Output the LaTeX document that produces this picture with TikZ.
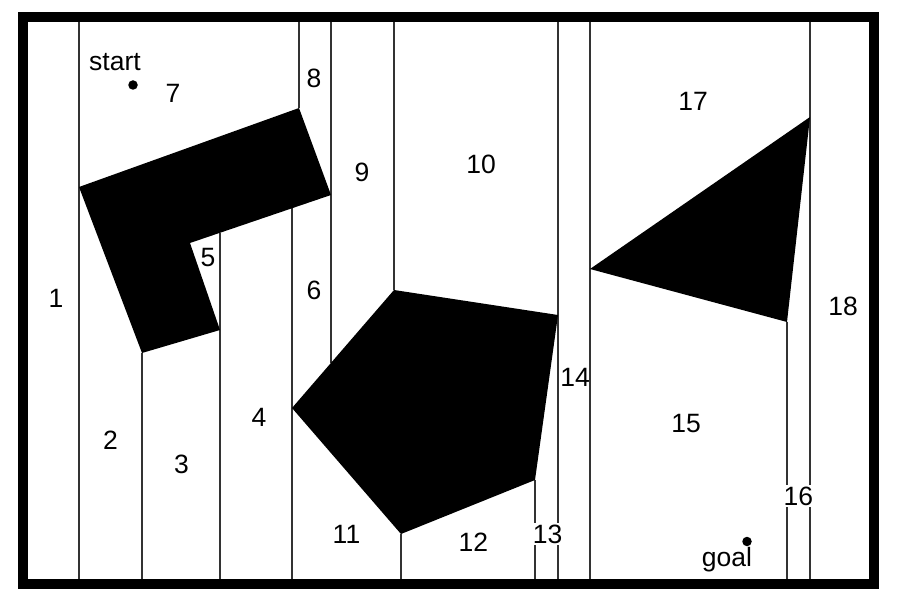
\documentclass[tikz,border=0pt]{standalone}
\usepackage{fontspec}
\setmainfont{Liberation Sans}
\begin{document}
\begin{tikzpicture}[x=1pt,y=-1pt,
  cellline/.style={line width=1.1pt, draw=black!80},
  obstacle/.style={fill=black, draw=none},
  frame/.style={line width=10pt, draw=black},
  lbl/.style={font=\fontsize{26.5}{31}\selectfont, inner sep=0pt},
  lblw/.style={lbl, fill=white, inner sep=1.5pt},
  dotpt/.style={circle, fill=black, inner sep=0pt, minimum size=9.5pt}]
\useasboundingbox (0,0) rectangle (905,612);
% reference levels
\coordinate (T) at (0,22);
\coordinate (B) at (0,579);
% L-shaped obstacle
\coordinate (L1) at (79,187);
\coordinate (L2) at (299,108);
\coordinate (L3) at (331,195);
\coordinate (L4) at (190,243);
\coordinate (L5) at (220,330);
\coordinate (L6) at (142,353);
% pentagon
\coordinate (P1) at (394,290);
\coordinate (P2) at (558,315);
\coordinate (P3) at (535,480);
\coordinate (P4) at (401,534);
\coordinate (P5) at (292,408);
% triangle
\coordinate (R1) at (590,269);
\coordinate (R2) at (810,117);
\coordinate (R3) at (787,322);
% feet of lines on obstacle edges
\coordinate (E1) at (331,362.9);
\coordinate (E2) at (292,208.3);
\coordinate (E3) at (220,232.8);

% cell decomposition lines
\draw[cellline] (L1 |- T) -- (L1 |- B);
\draw[cellline] (L2 |- T) -- (L2);
\draw[cellline] (L3 |- T) -- (E1);
\draw[cellline] (E2) -- (E2 |- B);
\draw[cellline] (E3) -- (E3 |- B);
\draw[cellline] (L6) -- (L6 |- B);
\draw[cellline] (P1 |- T) -- (P1);
\draw[cellline] (P4) -- (P4 |- B);
\draw[cellline] (P3) -- (P3 |- B);
\draw[cellline] (P2 |- T) -- (P2 |- B);
\draw[cellline] (R1 |- T) -- (R1 |- B);
\draw[cellline] (R2 |- T) -- (R2 |- B);
\draw[cellline] (R3) -- (R3 |- B);

% obstacles
\fill[obstacle] (L1) -- (L2) -- (L3) -- (L4) -- (L5) -- (L6) -- cycle;
\fill[obstacle] (P1) -- (P2) -- (P3) -- (P4) -- (P5) -- cycle;
\fill[obstacle] (R1) -- (R2) -- (R3) -- cycle;

% outer wall
\draw[frame] (23,17) rectangle (874,584);

% start and goal
\node[dotpt] (s) at (133,85) {};
\node[dotpt] (g) at (747,541.5) {};
\node[lbl, anchor=base] (st) at (115,71) {start};
\node[lbl, anchor=base] (gl) at (727,566.7) {goal};

% cell labels
\node[lbl] (c1) at (56,298) {1};
\node[lbl] (c2) at (110.5,440.5) {2};
\node[lbl] (c3) at (181.5,464) {3};
\node[lbl] (c4) at (259,417.5) {4};
\node[lbl] (c5) at (208,258) {5};
\node[lbl] (c6) at (314,290) {6};
\node[lbl] (c7) at (173,93) {7};
\node[lbl] (c8) at (314,78.5) {8};
\node[lbl] (c9) at (362,172) {9};
\node[lbl] (c10) at (481,164) {10};
\node[lbl] (c11) at (346.5,534.5) {11};
\node[lbl] (c12) at (473.3,542.7) {12};
\node[lblw] (c13) at (547.7,534.3) {13};
\node[lbl] (c14) at (575,377) {14};
\node[lbl] (c15) at (686,424) {15};
\node[lblw] (c16) at (798.3,496) {16};
\node[lbl] (c17) at (693,101) {17};
\node[lbl] (c18) at (843,306) {18};
\end{tikzpicture}
\end{document}
